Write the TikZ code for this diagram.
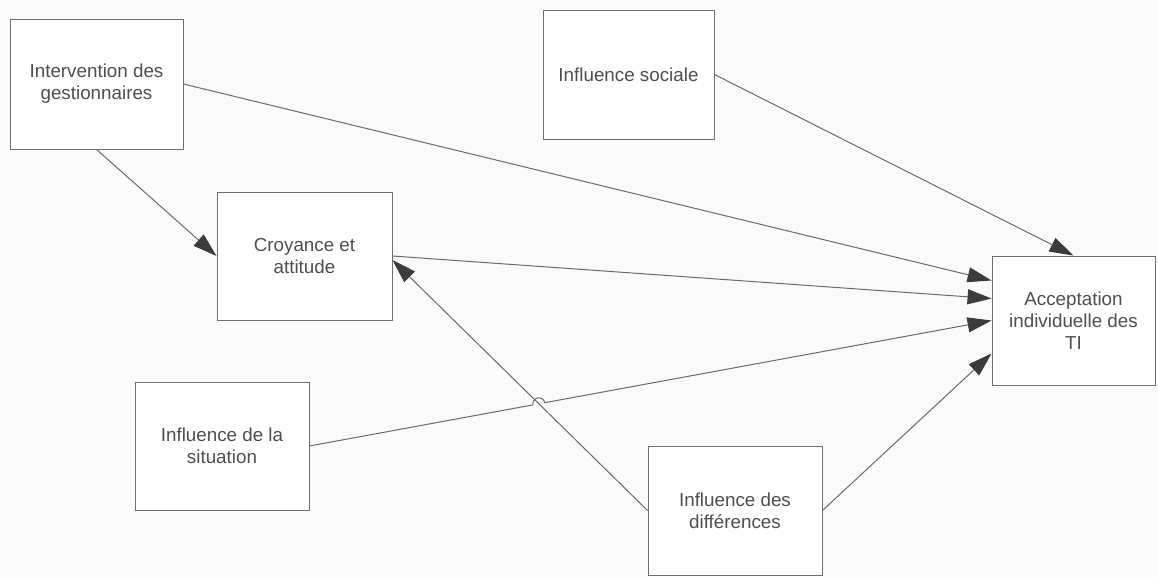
\documentclass[tikz,border=0pt]{standalone}
\usepackage{fontspec}
\setmainfont{Liberation Sans}
\usetikzlibrary{arrows.meta,calc,intersections}
\definecolor{boxline}{HTML}{6E6E6E}
\definecolor{txt}{HTML}{4E4E4E}
\definecolor{wire}{HTML}{6A6A6A}
\definecolor{tip}{HTML}{3C3C3C}
\begin{document}
\begin{tikzpicture}[x=1pt,y=-1pt,
  box/.style={draw=boxline,line width=0.9pt,fill=white,align=center,text=txt,
    font=\fontsize{18.8}{22}\selectfont,inner sep=0pt},
  conn/.style={draw=wire,line width=1pt,
    -{Triangle[length=24pt,width=15pt,fill=tip,color=tip]}}]
\fill[white!98!black] (0,0) rectangle (1158,577);
\useasboundingbox (0,0) rectangle (1158,577);

\node[box,minimum width=173pt,minimum height=130pt] (int) at (96.5,84) {Intervention des\\gestionnaires};
\node[box,minimum width=175pt,minimum height=128pt] (cro) at (304.5,256) {Croyance et\\attitude};
\node[box,minimum width=174pt,minimum height=128pt] (sit) at (222,446) {Influence de la\\situation};
\node[box,minimum width=174pt,minimum height=129pt] (dif) at (735,510.5) {Influence des\\différences};
\node[box,minimum width=171pt,minimum height=129pt] (soc) at (628.5,74.5) {Influence sociale};
\node[box,minimum width=163pt,minimum height=129pt] (acc) at (1073.5,320.5) {Acceptation\\individuelle des\\TI};

% straight connectors
\draw[conn] (int.east) -- ([yshift=40pt]acc.west);
\draw[conn] (int.south) -- (cro.west);
\draw[conn] (cro.east) -- ([yshift=22pt]acc.west);
\draw[conn] (dif.east) -- ([yshift=-33pt]acc.west);
\draw[conn] (dif.west) -- ([yshift=-4pt]cro.east);
\draw[conn] (soc.east) -- (acc.north);

% situation -> acceptation, hopping over the differences line
\path[name path=sitline] (sit.east) -- (acc.west);
\path[name path=difline] (dif.west) -- ([yshift=-4pt]cro.east);
\path[name intersections={of=sitline and difline,by=cross}];
\draw[conn] let \p1=($(acc.west)-(sit.east)$), \n1={atan2(\y1,\x1)} in
  (sit.east) -- ($(cross)!6pt!(sit.east)$)
  arc[start angle=\n1+180,end angle=\n1,radius=6pt] -- (acc.west);
\end{tikzpicture}
\end{document}
